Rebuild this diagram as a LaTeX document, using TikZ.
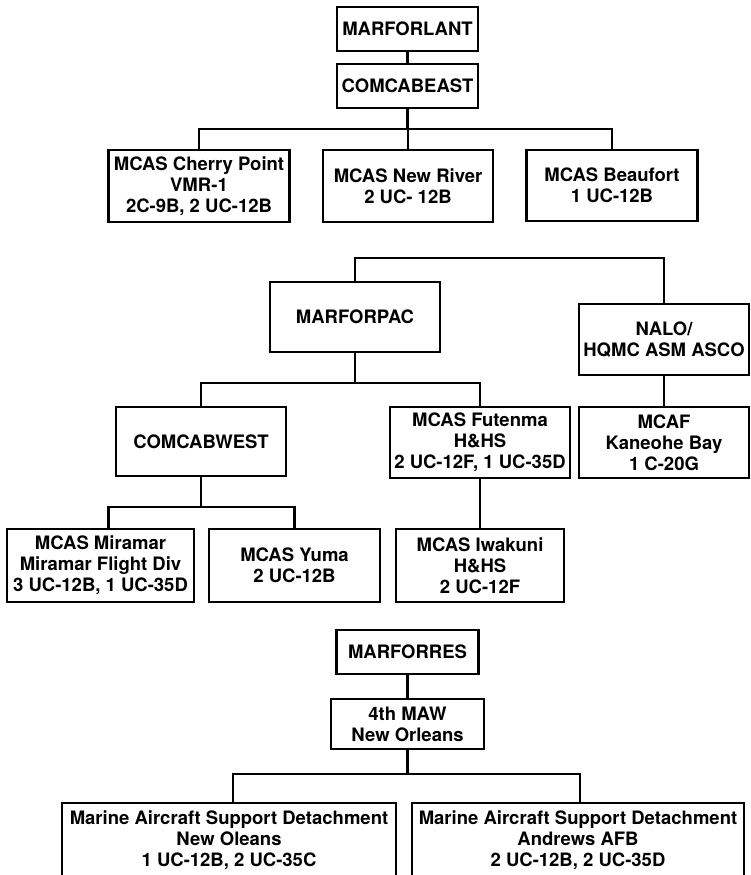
\documentclass[tikz,border=0pt]{standalone}
\usepackage{fontspec}
\setmainfont{TeX Gyre Heros}
\begin{document}
\begin{tikzpicture}[x=1pt,y=-1pt,
  box/.style={draw, line width=2.1pt, inner sep=0pt, align=center,
    font=\fontsize{18.5}{21}\selectfont\bfseries},
  conn/.style={line width=2.1pt}]
\useasboundingbox (0,0) rectangle (750,875);
\clip (0,0) rectangle (750,875);
% ---- MARFORLANT ----
\node[box, minimum width=141pt, minimum height=44pt] (lant) at (407.5,29) {MARFORLANT};
\node[box, minimum width=141pt, minimum height=44pt] (east) at (407.5,86) {COMCABEAST};
\node[box, minimum width=181pt, minimum height=72pt] (cherry) at (199,186) {MCAS Cherry Point\\VMR-1\\2C-9B, 2 UC-12B};
\node[box, minimum width=170pt, minimum height=72pt] (newriver) at (408,186) {MCAS New River\\2 UC- 12B};
\node[box, minimum width=171pt, minimum height=71pt] (beaufort) at (612,185.5) {MCAS Beaufort\\1 UC-12B};
\coordinate (b1) at (0,129);
\draw[conn] (lant.south) -- (east.north);
\draw[conn] (east.south) -- (east.south |- b1);
\draw[conn] (cherry.north) |- (beaufort.north |- b1) -- (beaufort.north);
\draw[conn] (newriver.north) -- (newriver.north |- b1);
% ---- MARFORPAC ----
\node[box, minimum width=170pt, minimum height=70pt] (pac) at (355,317) {MARFORPAC};
\node[box, minimum width=170pt, minimum height=71pt] (nalo) at (664,339.5) {NALO/\\HQMC ASM ASCO};
\node[box, minimum width=170pt, minimum height=69pt] (west) at (201,441.5) {COMCABWEST};
\node[box, minimum width=180pt, minimum height=71pt] (futenma) at (480,442.5) {MCAS Futenma\\H\&HS\\2 UC-12F, 1 UC-35D};
\node[box, minimum width=170pt, minimum height=71pt] (mcaf) at (664,442.5) {MCAF\\Kaneohe Bay\\1 C-20G};
\node[box, minimum width=187pt, minimum height=73pt] (miramar) at (100.5,565.5) {MCAS Miramar\\Miramar Flight Div\\3 UC-12B, 1 UC-35D};
\node[box, minimum width=171pt, minimum height=73pt] (yuma) at (294.5,565.5) {MCAS Yuma\\2 UC-12B};
\node[box, minimum width=168pt, minimum height=73pt] (iwakuni) at (480,565.5) {MCAS Iwakuni\\H\&HS\\2 UC-12F};
\coordinate (t2) at (0,258);
\coordinate (b2) at (0,383);
\coordinate (b3) at (0,507);
\draw[conn] (pac.north) |- (nalo.north |- t2) -- (nalo.north);
\draw[conn] (pac.south) -- (pac.south |- b2);
\draw[conn] (west.north) |- (futenma.north |- b2) -- (futenma.north);
\draw[conn] (nalo.south) -- (mcaf.north);
\draw[conn] (west.south) -- (west.south |- b3);
\draw[conn] ([xshift=8pt]miramar.north) |- (yuma.north |- b3) -- (yuma.north);
\draw[conn] (futenma.south) -- (iwakuni.north);
% ---- MARFORRES ----
\node[box, minimum width=142pt, minimum height=44pt] (res) at (407.5,652) {MARFORRES};
\node[box, minimum width=153pt, minimum height=50pt] (maw) at (407.5,724) {4th MAW\\New Orleans};
\node[box, minimum width=334pt, minimum height=74pt] (masdno) at (229,840) {Marine Aircraft Support Detachment\\New Oleans\\1 UC-12B, 2 UC-35C};
\node[box, minimum width=332pt, minimum height=74pt] (andrews) at (578,840) {Marine Aircraft Support Detachment\\Andrews AFB\\2 UC-12B, 2 UC-35D};
\coordinate (b4) at (0,774);
\draw[conn] (res.south) -- (maw.north);
\draw[conn] (maw.south) -- (maw.south |- b4);
\draw[conn] ([xshift=4pt]masdno.north) |- ([xshift=2pt]andrews.north |- b4) -- ([xshift=2pt]andrews.north);
\end{tikzpicture}
\end{document}
